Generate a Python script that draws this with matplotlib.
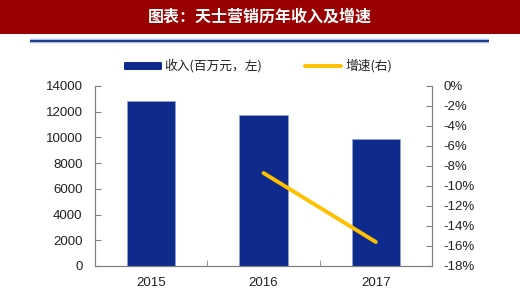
import matplotlib
matplotlib.use("Agg")
import matplotlib.pyplot as plt
import matplotlib.lines as mlines
import matplotlib.patches as mpatches
import numpy as np

years = ["2015", "2016", "2017"]
revenue = [12850, 11770, 9900]
growth_years = ["2016", "2017"]
growth = [-8.7, -15.6]
left_ticks = [0, 2000, 4000, 6000, 8000, 10000, 12000, 14000]
right_ticks = [0, -2, -4, -6, -8, -10, -12, -14, -16, -18]
title = "图表：天士营销历年收入及增速"
legend_bar = "收入(百万元，左)"
legend_line = "增速(右)"

W, H = 520, 298
fig = plt.figure(figsize=(W / 100, H / 100), dpi=100)
fig.patch.set_facecolor("white")

cjk = ["Noto Sans CJK SC", "DejaVu Sans"]
latin = ["Liberation Sans", "DejaVu Sans"]
fs = 9.5

# title bar
fig.patches.append(mpatches.Rectangle((0, 1 - 34 / H), 1, 34 / H, transform=fig.transFigure,
                                      facecolor="#990000", edgecolor="none", zorder=0))
fig.text(0.5, 1 - 17 / H, title, ha="center", va="center", color="white",
         fontsize=11.5, family=cjk, fontweight="bold")
# blue separator line
fig.add_artist(mlines.Line2D([30 / W, 489 / W], [1 - 41 / H, 1 - 41 / H], transform=fig.transFigure,
                             color="#A9C0E4", lw=3.2, solid_capstyle="butt"))
fig.add_artist(mlines.Line2D([30 / W, 489 / W], [1 - 41 / H, 1 - 41 / H], transform=fig.transFigure,
                             color="#1F3A8A", lw=1.4, solid_capstyle="butt"))

ax = fig.add_axes([95 / W, 1 - 266 / H, (432 - 95) / W, (266 - 86) / H])
x = np.arange(len(years))
ax.bar(x, revenue, width=0.43, color="#0D2A8C", edgecolor="#8FA3D8", linewidth=0.6, zorder=2)
ax.set_xlim(-0.5, len(years) - 0.5)
ax.set_ylim(0, 14000)
ax.set_yticks(left_ticks)
ax.set_yticklabels([str(v) for v in left_ticks], family=latin, fontsize=fs, color="#222222")
ax.set_xticks(x)
ax.set_xticklabels(years, family=latin, fontsize=fs, color="#222222")
ax.tick_params(axis="x", length=0, pad=8)
ax.tick_params(axis="y", direction="in", length=4, color="#808080", pad=9)
ax.set_xticks([0.5, 1.5], minor=True)
ax.tick_params(axis="x", which="minor", direction="in", length=4, color="#808080")
for s in ["top", "right"]:
    ax.spines[s].set_visible(False)
for s in ["left", "bottom"]:
    ax.spines[s].set_color("#808080")
    ax.spines[s].set_linewidth(0.9)

ax2 = ax.twinx()
gx = [years.index(y) for y in growth_years]
ax2.plot(gx, growth, color="#FFC000", lw=2.8, solid_capstyle="round", zorder=3)
ax2.set_ylim(-18, 0)
ax2.set_yticks(right_ticks)
ax2.set_yticklabels([f"{v}%" for v in right_ticks], family=latin, fontsize=fs, color="#222222")
ax2.tick_params(axis="y", direction="in", length=4, color="#808080", pad=8.5)
for s in ["top", "left", "bottom"]:
    ax2.spines[s].set_visible(False)
ax2.spines["right"].set_color("#808080")
ax2.spines["right"].set_linewidth(0.9)

# legend
ly = 1 - 66 / H
fig.patches.append(mpatches.FancyBboxPatch((124 / W, ly - 4 / H), 38 / W, 8 / H, transform=fig.transFigure,
                                           boxstyle="round,pad=0,rounding_size=0.003",
                                           facecolor="#0D2A8C", edgecolor="none"))
fig.text(164 / W, ly, legend_bar, ha="left", va="center", fontsize=9.2, family=cjk, color="#222222")
fig.add_artist(mlines.Line2D([305 / W, 341 / W], [ly, ly], transform=fig.transFigure,
                             color="#FFC000", lw=2.8, solid_capstyle="round"))
fig.text(345 / W, ly, legend_line, ha="left", va="center", fontsize=9.2, family=cjk, color="#222222")

fig.savefig("out.png", dpi=100)
